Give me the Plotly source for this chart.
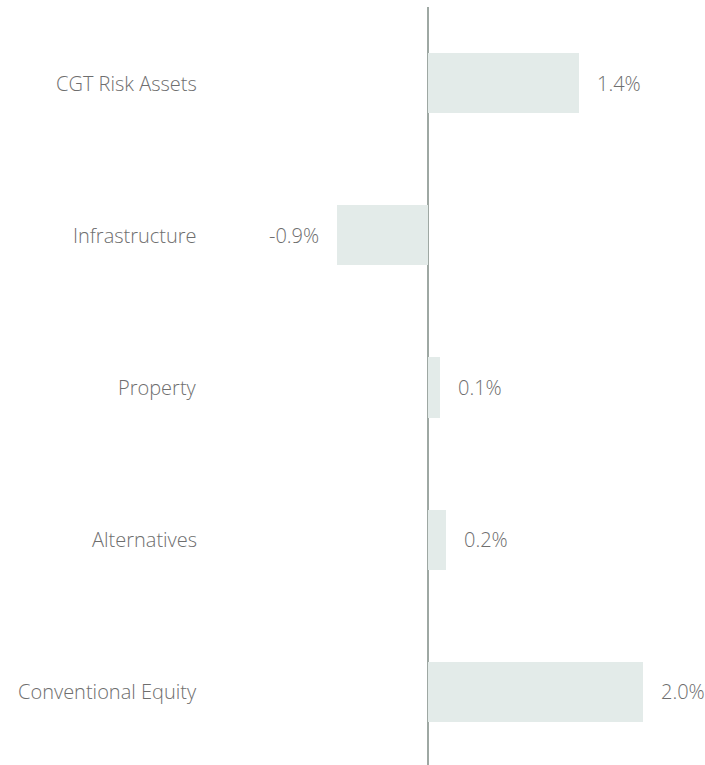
import plotly.graph_objects as go

categories = ["CGT Risk Assets", "Infrastructure", "Property", "Alternatives", "Conventional Equity"]
values = [1.4, -0.85, 0.11, 0.17, 2.0]
value_labels = ["1.4%", "-0.9%", "0.1%", "0.2%", "2.0%"]

W, H = 705, 765
PX_PER_UNIT = 107.5
ZERO_PX = 428
x_range = [-ZERO_PX / PX_PER_UNIT, (W - ZERO_PX) / PX_PER_UNIT]
LABEL_RIGHT_PX = 199
label_x = (LABEL_RIGHT_PX - ZERO_PX) / PX_PER_UNIT

BAR_COLOR = "#e3ebe9"
TEXT_COLOR = "#6e6e6e"
FONT = "Open Sans"
FONT_SIZE = 20

fig = go.Figure()
fig.add_trace(go.Bar(
    x=values, y=categories, orientation="h",
    marker=dict(color=BAR_COLOR, line=dict(width=0)),
    width=0.395, hoverinfo="skip",
))

annotations = []
for c, v, t in zip(categories, values, value_labels):
    annotations.append(dict(
        x=v, y=c, xref="x", yref="y", text=t, showarrow=False,
        xanchor="left" if v >= 0 else "right", xshift=16 if v >= 0 else -16,
        font=dict(family=FONT, size=FONT_SIZE, color=TEXT_COLOR, weight=300),
    ))
    annotations.append(dict(
        x=label_x, y=c, xref="x", yref="y", text=c, showarrow=False,
        xanchor="right",
        font=dict(family=FONT, size=FONT_SIZE, color=TEXT_COLOR, weight=300),
    ))

fig.update_layout(
    width=W, height=H,
    margin=dict(l=0, r=0, t=7, b=0),
    paper_bgcolor="white", plot_bgcolor="white",
    showlegend=False,
    annotations=annotations,
    xaxis=dict(range=x_range, showgrid=False, showticklabels=False, ticks="",
               zeroline=True, zerolinecolor="#9ea8a3", zerolinewidth=1.5,
               showline=False, fixedrange=True),
    yaxis=dict(categoryorder="array", categoryarray=categories,
               range=[4.48, -0.5], showgrid=False, showticklabels=False,
               ticks="", showline=False, zeroline=False, fixedrange=True),
    bargap=0,
)

fig.write_html(
    "out.html",
    config={"displayModeBar": False},
    post_script="document.body.style.margin='0';document.body.style.overflow='hidden';",
)
